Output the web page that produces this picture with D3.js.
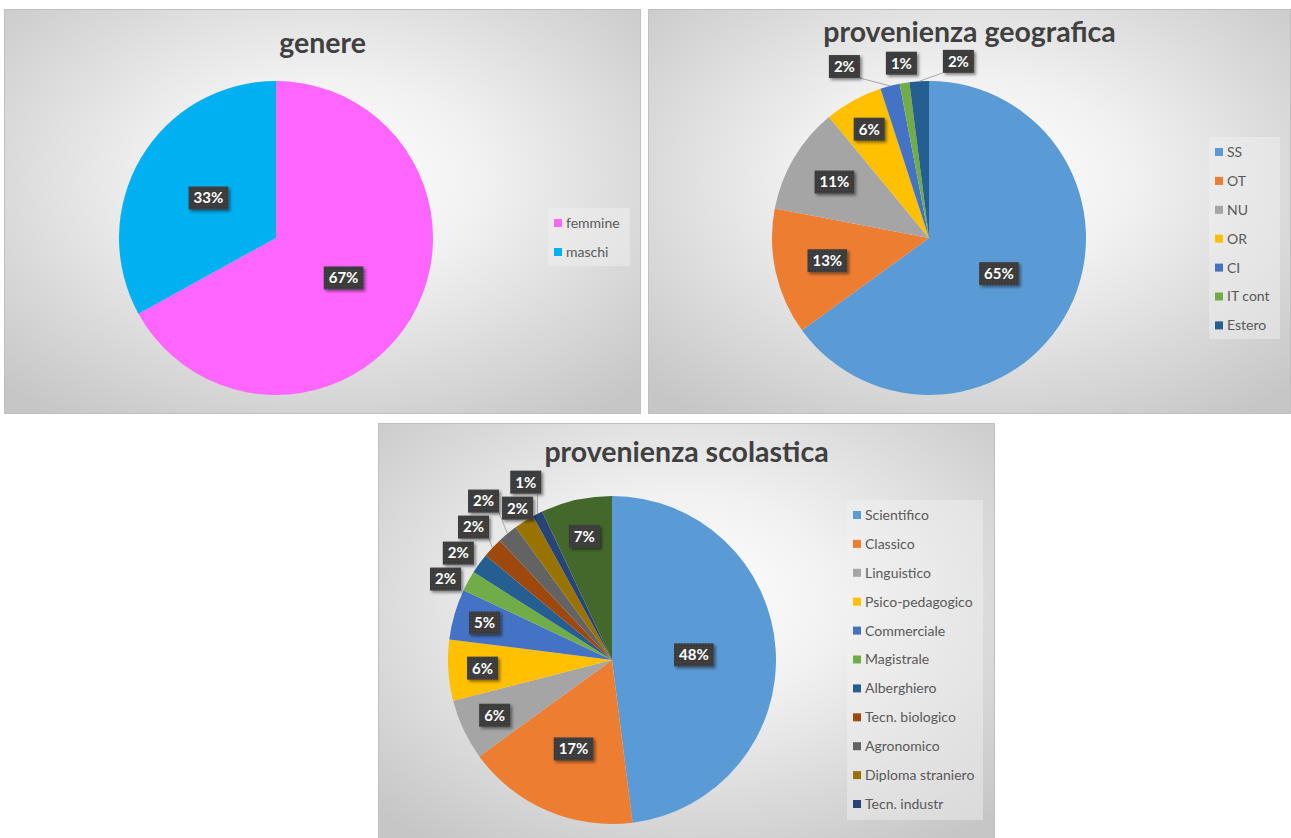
<!DOCTYPE html>
<html>
<head>
<meta charset="utf-8">
<script src="https://cdn.jsdelivr.net/npm/d3@7/dist/d3.min.js"></script>
<style>
  html, body { margin: 0; padding: 0; background: #ffffff; }
  svg { display: block; font-family: Lato, "Open Sans", "Liberation Sans", sans-serif; }
</style>
</head>
<body>
<svg id="chart" width="1291" height="838"></svg>
<script>
// ---------------- DATA ----------------
const genereCategories = ["femmine", "maschi"];
const genereValues = [67, 33];
const genereColors = ["#FF66FF", "#00B0F0"];

const geoCategories = ["SS", "OT", "NU", "OR", "CI", "IT cont", "Estero"];
const geoValues = [65, 13, 11, 6, 2, 1, 2];
const geoColors = ["#5B9BD5", "#ED7D31", "#A5A5A5", "#FFC000", "#4472C4", "#70AD47", "#255E91"];

const scuolaCategories = ["Scientifico", "Classico", "Linguistico", "Psico-pedagogico", "Commerciale",
  "Magistrale", "Alberghiero", "Tecn. biologico", "Agronomico", "Diploma straniero", "Tecn. industr", "Altro"];
const scuolaValues = [48, 17, 6, 6, 5, 2, 2, 2, 2, 2, 1, 7];
const scuolaColors = ["#5B9BD5", "#ED7D31", "#A5A5A5", "#FFC000", "#4472C4", "#70AD47",
  "#255E91", "#9E480E", "#636363", "#997300", "#264478", "#43682B"];
const scuolaLegendCount = 11; // the legend in the original shows only the first 11 entries

// ---------------- LAYOUT ----------------
const panels = [
  { title: "genere", cats: genereCategories, vals: genereValues, colors: genereColors,
    x: 4, y: 9, w: 637, h: 405, titleY: 53, cx: 276, cy: 238, r: 157,
    legend: { x: 548, y: 208, w: 82, h: 58, step: 29 }, legendCount: 2, outPad: 24, gap: 3, axis: "auto" },
  { title: "provenienza geografica", cats: geoCategories, vals: geoValues, colors: geoColors,
    x: 648, y: 9, w: 643, h: 405, titleY: 42, cx: 929, cy: 238, r: 157,
    legend: { x: 1209, y: 137, w: 71, h: 202, step: 28.9 }, legendCount: 7, outPad: 20, gap: 26, axis: "x" },
  { title: "provenienza scolastica", cats: scuolaCategories, vals: scuolaValues, colors: scuolaColors,
    x: 378, y: 423, w: 617, h: 416, titleY: 462, cx: 612, cy: 660, r: 164,
    legend: { x: 847, y: 500, w: 136, h: 320, step: 28.9 }, legendCount: scuolaLegendCount, outPad: 26, gap: 3, axis: "auto" }
];

const svg = d3.select("#chart");
const defs = svg.append("defs");

const grad = defs.append("radialGradient").attr("id", "bg").attr("cx", "50%").attr("cy", "42%").attr("r", "72%");
grad.append("stop").attr("offset", "0").attr("stop-color", "#ffffff");
grad.append("stop").attr("offset", "0.35").attr("stop-color", "#f1f1f1");
grad.append("stop").attr("offset", "1").attr("stop-color", "#c6c6c6");

const pat = defs.append("pattern").attr("id", "dots").attr("width", 3).attr("height", 3)
  .attr("patternUnits", "userSpaceOnUse");
pat.append("rect").attr("width", 3).attr("height", 3).attr("fill", "#3b3b3b");
pat.append("rect").attr("x", 1).attr("y", 1).attr("width", 1).attr("height", 1).attr("fill", "#4e4e4e");

const shadow = defs.append("filter").attr("id", "shadow").attr("x", "-30%").attr("y", "-30%")
  .attr("width", "170%").attr("height", "170%");
shadow.append("feDropShadow").attr("dx", 2).attr("dy", 2).attr("stdDeviation", 1.6)
  .attr("flood-color", "#000").attr("flood-opacity", 0.45);

panels.forEach(P => {
  const g = svg.append("g");
  g.append("rect").attr("x", P.x + 0.5).attr("y", P.y + 0.5).attr("width", P.w - 1).attr("height", P.h - 1)
    .attr("fill", "url(#bg)").attr("stroke", "#c0c0c0").attr("stroke-width", 1);

  g.append("text").attr("x", P.x + P.w / 2).attr("y", P.titleY).attr("text-anchor", "middle")
    .attr("font-size", 28.5).attr("font-weight", 700).attr("fill", "#404040").text(P.title);

  const color = d3.scaleOrdinal().domain(P.cats).range(P.colors);
  const pie = d3.pie().sort(null).value(d => d.v);
  const data = P.cats.map((c, i) => ({ c, v: P.vals[i] }));
  const arcs = pie(data);
  const total = d3.sum(P.vals);
  const arc = d3.arc().innerRadius(0).outerRadius(P.r);

  const pieG = g.append("g").attr("transform", `translate(${P.cx},${P.cy})`);
  pieG.selectAll("path").data(arcs).join("path")
    .attr("d", arc).attr("fill", d => color(d.data.c));

  // labels
  const fmt = d3.format(".0%");
  const labels = arcs.map(a => {
    const p = a.data.v / total;
    const mid = (a.startAngle + a.endAngle) / 2;
    let dist, outside = false;
    if (p >= 0.025) {
      const f = p >= 0.22 ? 0.5 : Math.min(0.86, 0.5 + 0.4 * (1 - p / 0.22));
      dist = f * P.r;
    } else { dist = P.r + P.outPad; outside = true; }
    const x = P.cx + Math.sin(mid) * dist, y = P.cy - Math.cos(mid) * dist;
    return { text: fmt(p), mid, outside, x, y, x0: x, y0: y,
      ax: P.cx + Math.sin(mid) * P.r, ay: P.cy - Math.cos(mid) * P.r };
  });

  const labG = g.append("g");
  labels.forEach(L => {
    const t = labG.append("text").attr("font-size", 15).attr("font-weight", 700).text(L.text);
    L.w = t.node().getComputedTextLength() + 10; L.h = 23;
    t.remove();
  });

  // simple collision relaxation for outside labels (keeps their original order)
  const outs = labels.filter(L => L.outside);
  for (let it = 0; it < 400; it++) {
    let moved = false;
    for (let i = 0; i < outs.length; i++) for (let j = i + 1; j < outs.length; j++) {
      const A = outs[i], B = outs[j];
      const sx = (B.x0 - A.x0) >= 0 ? 1 : -1, sy = (B.y0 - A.y0) >= 0 ? 1 : -1;
      const dx = (B.x - A.x) * sx, dy = (B.y - A.y) * sy;
      const ox = (A.w + B.w) / 2 + P.gap - dx;
      const oy = (A.h + B.h) / 2 + P.gap - dy;
      if (ox > 0.01 && oy > 0.01) {
        moved = true;
        if (P.axis === "x" || (P.axis === "auto" && ox < oy)) {
          A.x -= sx * ox / 2; B.x += sx * ox / 2;
        } else {
          A.y -= sy * oy / 2; B.y += sy * oy / 2;
        }
      }
    }
    if (!moved) break;
  }

  // leader lines
  outs.forEach(L => {
    const x0 = L.x - L.w / 2, x1 = L.x + L.w / 2, y0 = L.y - L.h / 2, y1 = L.y + L.h / 2;
    const px = Math.max(x0, Math.min(x1, L.ax)), py = Math.max(y0, Math.min(y1, L.ay));
    if (Math.hypot(px - L.ax, py - L.ay) > 9) {
      labG.append("line").attr("x1", L.ax).attr("y1", L.ay).attr("x2", px).attr("y2", py)
        .attr("stroke", "#a6a6a6").attr("stroke-width", 1);
    }
  });

  const lg = labG.selectAll("g.lab").data(labels).join("g").attr("class", "lab")
    .attr("transform", d => `translate(${d.x},${d.y})`);
  lg.append("rect").attr("x", d => -d.w / 2).attr("y", d => -d.h / 2)
    .attr("width", d => d.w).attr("height", d => d.h)
    .attr("fill", "url(#dots)").attr("filter", "url(#shadow)");
  lg.append("text").attr("text-anchor", "middle").attr("dy", "0.36em")
    .attr("font-size", 15).attr("font-weight", 700).attr("fill", "#ffffff").text(d => d.text);

  // legend
  const Lg = P.legend;
  g.append("rect").attr("x", Lg.x).attr("y", Lg.y).attr("width", Lg.w).attr("height", Lg.h)
    .attr("fill", "#f2f2f2").attr("fill-opacity", 0.45);
  const items = P.cats.slice(0, P.legendCount);
  const li = g.selectAll("g.li").data(items).join("g").attr("class", "li")
    .attr("transform", (d, i) => `translate(${Lg.x + 6},${Lg.y + 15 + i * Lg.step})`);
  li.append("rect").attr("x", 0).attr("y", -4).attr("width", 8).attr("height", 8).attr("fill", d => color(d));
  li.append("text").attr("x", 12).attr("dy", "0.35em").attr("font-size", 14).attr("fill", "#595959").text(d => d);
});
</script>
</body>
</html>
